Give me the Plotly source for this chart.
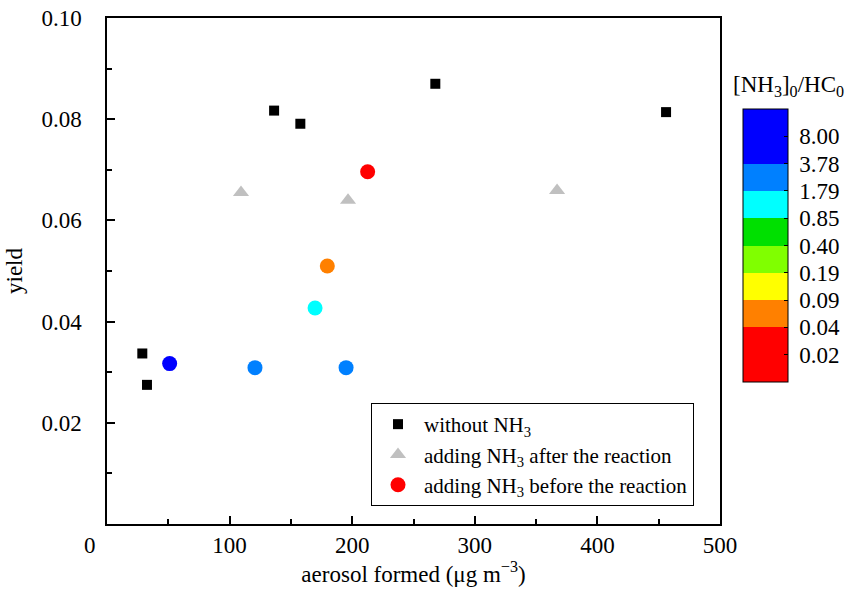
import numpy as np
import plotly.graph_objects as go

# --- data ---
x_without = [28.8, 32.6, 136.3, 157.7, 267.8, 456.0]
y_without = [0.0337, 0.0275, 0.0817, 0.0791, 0.0870, 0.0814]

x_after = [109.3, 196.6, 367.1]
y_after = [0.0655, 0.0640, 0.0659]

x_before = [51.1, 120.7, 195.0, 169.7, 179.7, 212.6]
y_before = [0.0317, 0.0309, 0.0309, 0.0427, 0.0510, 0.0696]
ratio_before = [8.00, 2.6, 2.6, 1.2, 0.06, 0.02]

ratio_levels = [0.02, 0.04, 0.09, 0.19, 0.40, 0.85, 1.79, 3.78, 8.00]
band_colors = ["#FF0000", "#FF8000", "#FFFF00", "#80FF00", "#00E000",
               "#00FFFF", "#0080FF", "#0000FF"]
band_edges = [0, 2, 3, 4, 5, 6, 7, 8, 10]

x_ticks = [100, 200, 300, 400, 500]
y_ticks = [0.02, 0.04, 0.06, 0.08, 0.10]

# discrete colorscale
cs = []
for i, c in enumerate(band_colors):
    cs.append([band_edges[i] / 10, c])
    cs.append([band_edges[i + 1] / 10, c])

level_pos = list(range(1, len(ratio_levels) + 1))
pos_before = np.interp(np.log(ratio_before), np.log(ratio_levels), level_pos)

W, H = 861, 589
PL, PR, PT, PB = 107, 720, 18, 524  # plot area in pixels
ML, MR, MT, MB = PL, W - PR, PT, H - PB
pw, ph = PR - PL, PB - PT

def px2paper(px, py):
    return (px - PL) / pw, (PB - py) / ph

FONT = "Liberation Serif"
FS = 23
fig = go.Figure()

fig.add_trace(go.Scatter(
    x=x_without, y=y_without, mode="markers", name="without NH<sub>3</sub>",
    marker=dict(symbol="square", size=10, color="black")))
fig.add_trace(go.Scatter(
    x=x_after, y=y_after, mode="markers", name="adding NH<sub>3</sub> after the reaction",
    marker=dict(symbol="triangle-up", size=14, color="#C0C0C0")))

cb_x, _ = px2paper(743, 0)
_, cb_ymid = px2paper(0, (109 + 382) / 2)
fig.add_trace(go.Scatter(
    x=x_before, y=y_before, mode="markers", showlegend=False,
    marker=dict(symbol="circle", size=15, color=pos_before, colorscale=cs,
                cmin=0, cmax=10, showscale=True,
                colorbar=dict(
                    x=cb_x, xanchor="left", xref="paper",
                    y=cb_ymid, yanchor="middle", len=(382 - 109) / ph, lenmode="fraction",
                    thickness=45, outlinecolor="black", outlinewidth=1,
                    tickvals=level_pos,
                    ticktext=["\u00a0" + f"{v:.2f}" for v in ratio_levels],
                    ticks="inside", ticklen=4, tickcolor="black",
                    tickfont=dict(family=FONT, size=FS, color="black"),
                    xpad=0, ypad=0))))
fig.add_trace(go.Scatter(
    x=[None], y=[None], mode="markers", name="adding NH<sub>3</sub> before the reaction",
    marker=dict(symbol="circle", size=15, color="#FF0000")))

axis_common = dict(showline=True, linecolor="black", linewidth=1.5, mirror=True,
                   ticks="inside", ticklen=8, tickwidth=1.5, tickcolor="black",
                   showgrid=False, zeroline=False, automargin=False,
                   ticklabeloverflow="allow",
                   tickfont=dict(family=FONT, size=FS, color="black"))

fig.update_xaxes(range=[0, 500], tickvals=x_ticks, ticklabelstandoff=0,
                 minor=dict(ticks="inside", ticklen=5, tickwidth=1.5, tickcolor="black", dtick=50, tick0=0),
                 title=dict(text="aerosol formed (μg m<sup>−3</sup>)", standoff=8,
                            font=dict(family=FONT, size=FS, color="black")),
                 **axis_common)
fig.update_yaxes(range=[0, 0.10], tickvals=y_ticks, tickformat=".2f", ticklabelstandoff=19,
                 minor=dict(ticks="inside", ticklen=5, tickwidth=1.5, tickcolor="black", dtick=0.01, tick0=0),
                 title=dict(text="yield", standoff=12,
                            font=dict(family=FONT, size=FS, color="black")),
                 **axis_common)

ax0, ay0 = px2paper(90, 545)
fig.add_annotation(text="0", x=ax0, y=ay0, xref="paper", yref="paper", showarrow=False,
                   xanchor="center", yanchor="middle",
                   font=dict(family=FONT, size=FS, color="black"))
tx, ty = px2paper(788, 86)
fig.add_annotation(text="[NH<sub>3</sub>]<sub>0</sub>/HC<sub>0</sub>", x=tx, y=ty,
                   xref="paper", yref="paper", xanchor="center", yanchor="middle",
                   showarrow=False, font=dict(family=FONT, size=FS, color="black"))

lx, ly = px2paper(371, 403)
fig.update_layout(
    width=W, height=H,
    margin=dict(l=ML, r=MR, t=MT, b=MB, autoexpand=False),
    paper_bgcolor="white", plot_bgcolor="white",
    font=dict(family=FONT, color="black"),
    showlegend=True,
    legend=dict(x=lx, y=ly, xanchor="left", yanchor="top",
                bordercolor="black", borderwidth=1, bgcolor="white",
                font=dict(family=FONT, size=21, color="black"),
                tracegroupgap=0, itemsizing="trace", itemwidth=42),
)

fig.write_html("out.html", config={"displayModeBar": False},
               post_script="document.body.style.margin='0px';")
